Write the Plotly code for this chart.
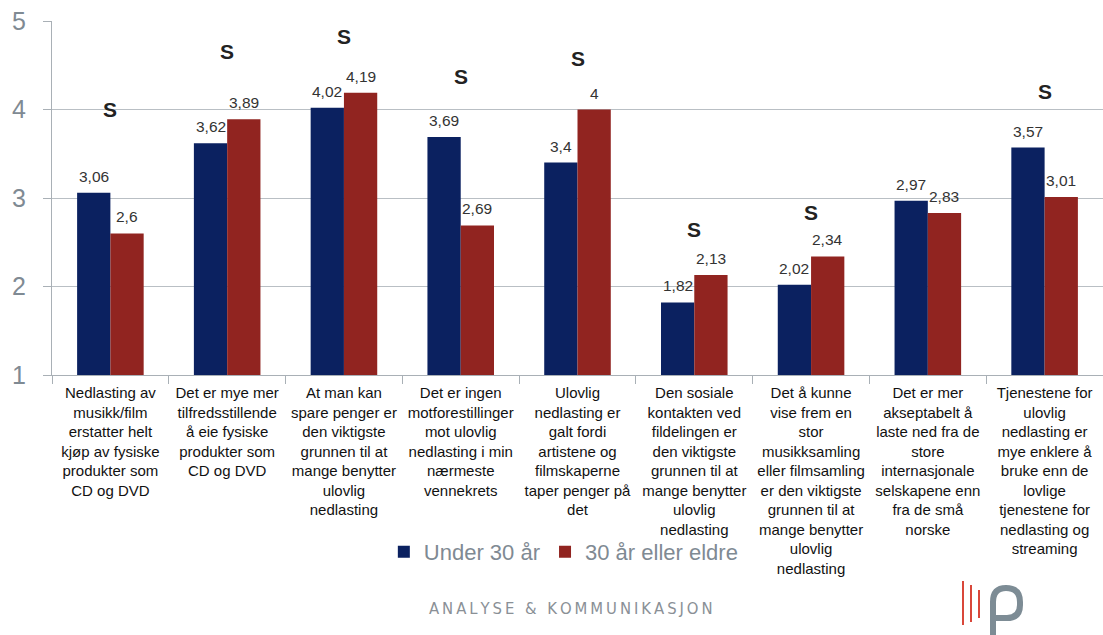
import plotly.graph_objects as go

categories = [
    "Nedlasting av<br>musikk/film<br>erstatter helt<br>kjøp av fysiske<br>produkter som<br>CD og DVD",
    "Det er mye mer<br>tilfredsstillende<br>å eie fysiske<br>produkter som<br>CD og DVD",
    "At man kan<br>spare penger er<br>den viktigste<br>grunnen til at<br>mange benytter<br>ulovlig<br>nedlasting",
    "Det er ingen<br>motforestillinger<br>mot ulovlig<br>nedlasting i min<br>nærmeste<br>vennekrets",
    "Ulovlig<br>nedlasting er<br>galt fordi<br>artistene og<br>filmskaperne<br>taper penger på<br>det",
    "Den sosiale<br>kontakten ved<br>fildelingen er<br>den viktigste<br>grunnen til at<br>mange benytter<br>ulovlig<br>nedlasting",
    "Det å kunne<br>vise frem en<br>stor<br>musikksamling<br>eller filmsamling<br>er den viktigste<br>grunnen til at<br>mange benytter<br>ulovlig<br>nedlasting",
    "Det er mer<br>akseptabelt å<br>laste ned fra de<br>store<br>internasjonale<br>selskapene enn<br>fra de små<br>norske",
    "Tjenestene for<br>ulovlig<br>nedlasting er<br>mye enklere å<br>bruke enn de<br>lovlige<br>tjenestene for<br>nedlasting og<br>streaming",
]
under_30 = [3.06, 3.62, 4.02, 3.69, 3.4, 1.82, 2.02, 2.97, 3.57]
over_30 = [2.6, 3.89, 4.19, 2.69, 4.0, 2.13, 2.34, 2.83, 3.01]
sig_levels = [4.0, 4.65, 4.83, 4.37, 4.58, 2.64, 2.84, None, 4.2]
series_names = ["Under 30 år", "30 år eller eldre"]
y_ticks = [1, 2, 3, 4, 5]

BLUE = "#0B2160"
RED = "#912420"
FONT = "Liberation Sans, Arial, sans-serif"

# layout geometry (pixels)
L, T, W, H = 52, 21, 1051, 354
BARGAP = 0.43


def fmt(v):
    s = ("%.2f" % v).rstrip("0").rstrip(".")
    return s.replace(".", ",")


def px(x):
    return (x - L) / W


def py(y):
    return (T + H - y) / H


fig = go.Figure()
for name, vals, col in [(series_names[0], under_30, BLUE), (series_names[1], over_30, RED)]:
    fig.add_trace(go.Bar(
        x=categories, y=vals, name=name,
        marker=dict(color=col, line=dict(width=0)),
        hoverinfo="y+name",
    ))

# value labels above bars (offset half a bar width to each side)
half_bar = W / len(categories) * (1 - BARGAP) / 4
for sign, vals in [(-1, under_30), (1, over_30)]:
    for cat, v in zip(categories, vals):
        fig.add_annotation(x=cat, y=v, text=fmt(v), showarrow=False,
                           xanchor="center", yanchor="bottom",
                           xshift=sign * half_bar, yshift=6,
                           font=dict(family=FONT, size=15.5, color="#333333"))

for cat, lvl in zip(categories, sig_levels):
    if lvl is None:
        continue
    fig.add_annotation(x=cat, y=lvl, text="<b>S</b>", showarrow=False,
                       font=dict(family=FONT, size=21, color="#222222"))

footer = "\u2009".join(list("ANALYSE & KOMMUNIKASJON")).replace("&", "&amp;")
fig.add_annotation(xref="paper", yref="paper", x=px(571), y=py(608),
                   xanchor="center", yanchor="middle",
                   text=footer, showarrow=False,
                   font=dict(family="DejaVu Sans Condensed, DejaVu Sans", size=16.5, color="#8a9096"))

shapes = []
for xx, y0, y1 in [(963, 581, 625), (971, 585, 622), (979, 590, 618)]:
    shapes.append(dict(type="line", xref="paper", yref="paper",
                       x0=px(xx), x1=px(xx), y0=py(y1), y1=py(y0),
                       line=dict(color="#d9473a", width=2)))


def P(x, y):
    return "%.5f,%.5f" % (px(x), py(y))


logo_path = ("M " + P(993, 640) + " L " + P(993, 602) + " Q " + P(993, 588) + " " + P(1006, 588)
             + " Q " + P(1020, 588) + " " + P(1020, 602)
             + " L " + P(1020, 605) + " Q " + P(1020, 618) + " " + P(1007, 618)
             + " L " + P(993, 618))
shapes.append(dict(type="path", xref="paper", yref="paper", path=logo_path,
                   line=dict(color="#7d8c95", width=6)))

fig.update_layout(
    width=1103, height=635,
    margin=dict(l=L, r=0, t=T, b=635 - T - H, autoexpand=False),
    paper_bgcolor="white", plot_bgcolor="white",
    barmode="group", bargap=BARGAP, bargroupgap=0,
    font=dict(family=FONT),
    shapes=shapes,
    showlegend=True,
    legend=dict(orientation="h", x=0.487, xanchor="center", y=py(552), yanchor="middle",
                font=dict(family=FONT, size=22, color="#7f8a93"), bgcolor="rgba(0,0,0,0)",
                itemwidth=30),
    xaxis=dict(
        automargin=False, tickangle=0,
        tickfont=dict(family=FONT, size=15, color="#111111"),
        showline=True, linecolor="#a9b0b6", linewidth=1,
        ticks="outside", tickson="boundaries", ticklen=8, tickcolor="#a9b0b6",
        ticklabelstandoff=4,
        showgrid=False,
    ),
    yaxis=dict(
        automargin=False,
        range=[1, 5], tickvals=y_ticks, ticktext=[str(t) for t in y_ticks],
        tickfont=dict(family=FONT, size=25, color="#7f8a93"),
        showline=True, linecolor="#a9b0b6", linewidth=1,
        ticks="outside", ticklen=8, tickcolor="#a9b0b6", ticklabelstandoff=12,
        showgrid=True, gridcolor="#b9bfc4", gridwidth=1,
        zeroline=False,
    ),
)

fig.write_html("out.html", config={"displayModeBar": False},
               post_script="document.body.style.margin='0';document.body.style.overflow='hidden';")
